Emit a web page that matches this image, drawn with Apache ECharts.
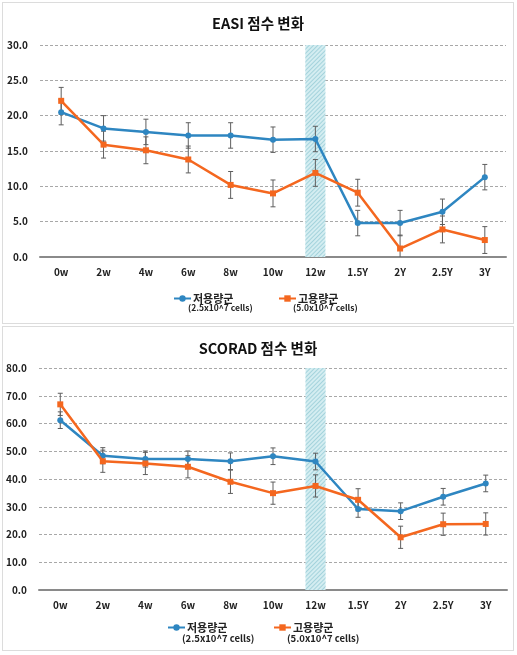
<!DOCTYPE html>
<html>
<head>
<meta charset="utf-8">
<script src="https://cdn.jsdelivr.net/npm/echarts@6/dist/echarts.min.js"></script>
<style>
  html, body { margin:0; padding:0; background:#fff; width:517px; height:655px; overflow:hidden; }
  .panel { position:absolute; box-sizing:border-box; border:1px solid #dcdcdc; background:#fff; }
  .chart { position:absolute; left:0; top:0; width:100%; height:100%; }
</style>
</head>
<body>
<div class="panel" style="left:2px;top:2px;width:512px;height:322px;"><div id="c1" class="chart"></div></div>
<div class="panel" style="left:2px;top:326px;width:512px;height:325px;"><div id="c2" class="chart"></div></div>
<script>
// ---- data ----
const categories = ['0w','2w','4w','6w','8w','10w','12w','1.5Y','2Y','2.5Y','3Y'];
const highlightCategory = '12w';
const seriesNames = ['저용량군', '고용량군'];
const seriesSubNames = ['(2.5x10^7 cells)', '(5.0x10^7 cells)'];

const easiTitle = 'EASI 점수 변화';
const easiLow  = [20.5, 18.2, 17.7, 17.2, 17.2, 16.6, 16.7, 4.8, 4.8, 6.4, 11.3];
const easiHigh = [22.1, 15.9, 15.1, 13.8, 10.2, 9.0, 11.9, 9.1, 1.2, 3.9, 2.4];
const easiLowErr  = [1.8, 1.8, 1.8, 1.8, 1.8, 1.8, 1.8, 1.8, 1.8, 1.8, 1.8];
const easiHighErr = [1.9, 1.9, 1.9, 1.9, 1.9, 1.9, 1.9, 1.9, 1.9, 1.9, 1.9];
const easiMax = 30, easiStep = 5;

const scoradTitle = 'SCORAD 점수 변화';
const scoradLow  = [61.2, 48.4, 47.2, 47.2, 46.4, 48.2, 46.3, 29.2, 28.4, 33.6, 38.4];
const scoradHigh = [66.9, 46.4, 45.6, 44.4, 39.0, 34.9, 37.5, 32.5, 19.0, 23.7, 23.8];
const scoradLowErr  = [3.0, 2.9, 2.9, 2.9, 3.0, 3.0, 3.0, 3.0, 3.0, 3.0, 3.0];
const scoradHighErr = [4.0, 4.0, 4.0, 4.0, 4.2, 4.0, 4.0, 4.0, 4.0, 4.0, 4.0];
const scoradMax = 80, scoradStep = 10;

// ---- styling ----
const BLUE = '#2e86c1', ORANGE = '#f4671f';
const FONT = '"Noto Sans CJK KR", "Noto Sans", sans-serif';

function errorSeries(values, errs) {
  return {
    type: 'custom',
    z: 3,
    clip: true,
    silent: true,
    data: categories.map((c, i) => [i, values[i] - errs[i], values[i] + errs[i]]),
    renderItem: function (params, api) {
      const x = api.value(0);
      const lo = api.coord([x, api.value(1)]);
      const hi = api.coord([x, api.value(2)]);
      const hw = 2.5;
      const st = { stroke: '#5e5e5e', lineWidth: 1 };
      return {
        type: 'group',
        children: [
          { type: 'line', shape: { x1: lo[0], y1: lo[1], x2: hi[0], y2: hi[1] }, style: st },
          { type: 'line', shape: { x1: lo[0] - hw, y1: lo[1], x2: lo[0] + hw, y2: lo[1] }, style: st },
          { type: 'line', shape: { x1: hi[0] - hw, y1: hi[1], x2: hi[0] + hw, y2: hi[1] }, style: st }
        ]
      };
    }
  };
}

function buildOption(cfg) {
  const bandData = categories.map(c => c === highlightCategory ? cfg.max : null);
  return {
    animation: false,
    textStyle: { fontFamily: FONT },
    title: {
      text: cfg.title, left: 'center', top: cfg.titleTop,
      textStyle: { fontSize: 14.5, fontWeight: 'bold', color: '#111', fontFamily: FONT }
    },
    grid: cfg.grid,
    legend: [0, 1].map(k => ({
      data: [seriesNames[k]],
      left: cfg.legendLeft[k], top: cfg.legendTop,
      itemWidth: 17, itemHeight: 8, itemGap: 0,
      textStyle: { fontSize: 11, fontWeight: 'bold', color: '#222', fontFamily: FONT, padding: [0,0,0,-3] }
    })),
    graphic: [0, 1].map(k => ({
      type: 'text', left: cfg.subLeft[k], top: cfg.subTop,
      style: { text: seriesSubNames[k], font: 'bold ' + cfg.subSize + 'px ' + FONT, fill: '#222' }
    })),
    xAxis: {
      type: 'category', data: categories, boundaryGap: true,
      axisTick: { show: false },
      axisLine: { lineStyle: { color: '#8a8a8a', width: 2 } },
      axisLabel: { color: '#222', fontWeight: 'bold', fontSize: 10, margin: 10, fontFamily: FONT }
    },
    yAxis: {
      type: 'value', min: 0, max: cfg.max, interval: cfg.step,
      axisLine: { show: false }, axisTick: { show: false },
      axisLabel: { color: '#222', fontWeight: 'bold', fontSize: 10, margin: 12, fontFamily: FONT,
        formatter: v => v.toFixed(1) },
      splitLine: { lineStyle: { color: '#a8a8a8', type: [3, 2], width: 1 } }
    },
    series: [
      {
        type: 'bar', data: bandData, barWidth: 20, z: 1, silent: true,
        itemStyle: {
          color: '#d4edf1',
          decal: { symbol: 'rect', symbolSize: 1, color: '#a4d3dc',
            dashArrayX: [1, 0], dashArrayY: [1, 2], rotation: -Math.PI / 4 }
        }
      },
      errorSeries(cfg.low, cfg.lowErr),
      errorSeries(cfg.high, cfg.highErr),
      {
        name: seriesNames[0], type: 'line', data: cfg.low, z: 4,
        symbol: 'circle', symbolSize: 6,
        lineStyle: { color: BLUE, width: 2.5 }, itemStyle: { color: BLUE }
      },
      {
        name: seriesNames[1], type: 'line', data: cfg.high, z: 5,
        symbol: 'rect', symbolSize: 6,
        lineStyle: { color: ORANGE, width: 2.5 }, itemStyle: { color: ORANGE }
      }
    ]
  };
}

const c1 = echarts.init(document.getElementById('c1'), null, { renderer: 'canvas' });
c1.setOption(buildOption({
  title: easiTitle, titleTop: 8, max: easiMax, step: easiStep,
  low: easiLow, high: easiHigh, lowErr: easiLowErr, highErr: easiHighErr,
  grid: { left: 37, right: 7, top: 42, bottom: 66 },
  legendLeft: [165, 270], legendTop: 285,
  subLeft: [185, 290], subTop: 301, subSize: 8.5
}));

const c2 = echarts.init(document.getElementById('c2'), null, { renderer: 'canvas' });
c2.setOption(buildOption({
  title: scoradTitle, titleTop: 9, max: scoradMax, step: scoradStep,
  low: scoradLow, high: scoradHigh, lowErr: scoradLowErr, highErr: scoradHighErr,
  grid: { left: 36, right: 6, top: 41, bottom: 60 },
  legendLeft: [159, 265], legendTop: 290,
  subLeft: [179, 284], subTop: 307, subSize: 9.5
}));
</script>
</body>
</html>
